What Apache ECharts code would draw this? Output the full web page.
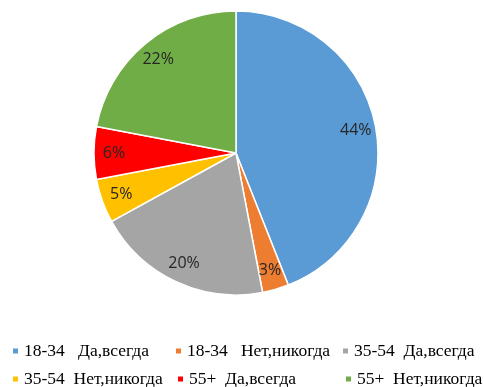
<!DOCTYPE html>
<html>
<head>
<meta charset="utf-8">
<script src="https://cdn.jsdelivr.net/npm/echarts@6/dist/echarts.min.js"></script>
<style>
  html, body { margin: 0; padding: 0; background: #fff; }
  #chart { width: 484px; height: 387px; }
</style>
</head>
<body>
<div id="chart"></div>
<script>
// Survey answers by age group, share of respondents (%)
const categories = [
  '18-34   Да,всегда',
  '18-34   Нет,никогда',
  '35-54  Да,всегда',
  '35-54  Нет,никогда',
  '55+  Да,всегда',
  '55+  Нет,никогда'
];
const shares = [44, 3, 20, 5, 6, 22];
const colors = ['#5B9BD5', '#ED7D31', '#A5A5A5', '#FFC000', '#FF0000', '#70AD47'];

// Legend slots: two rows of three
const legendSlots = [
  { left: 11, top: 342 }, { left: 174, top: 342 }, { left: 341, top: 342 },
  { left: 11, top: 370 }, { left: 176, top: 370 }, { left: 344, top: 370 }
];

const pieData = categories.map((name, i) => ({
  name: name,
  value: shares[i],
  itemStyle: { color: colors[i] }
}));

const chart = echarts.init(document.getElementById('chart'), null, { renderer: 'canvas' });

chart.setOption({
  backgroundColor: '#ffffff',
  animation: false,
  color: colors,
  legend: categories.map((name, i) => ({
    data: [name],
    left: legendSlots[i].left,
    top: legendSlots[i].top,
    icon: 'rect',
    itemWidth: 7,
    itemHeight: 7,
    padding: 0,
    selectedMode: false,
    textStyle: {
      fontFamily: '"Liberation Serif", "DejaVu Serif", serif',
      fontSize: 17.5,
      color: '#000000'
    }
  })),
  series: [
    {
      type: 'pie',
      center: [236, 153],
      radius: [0, 142],
      startAngle: 90,
      clockwise: true,
      label: { show: false },
      labelLine: { show: false },
      itemStyle: { borderColor: '#ffffff', borderWidth: 1.5 },
      data: pieData
    },
    {
      // percentage labels, placed near the rim of each slice
      type: 'pie',
      center: [236, 153],
      radius: [96, 142],
      startAngle: 90,
      clockwise: true,
      silent: true,
      legendHoverLink: false,
      itemStyle: { color: 'rgba(0,0,0,0)', borderWidth: 0 },
      label: {
        show: true,
        position: 'inside',
        formatter: p => p.value + '%',
        fontFamily: '"Open Sans", "Liberation Sans", sans-serif',
        fontSize: 16,
        color: '#262626'
      },
      labelLine: { show: false },
      data: categories.map((name, i) => ({ name: name, value: shares[i] }))
    }
  ]
});
</script>
</body>
</html>
